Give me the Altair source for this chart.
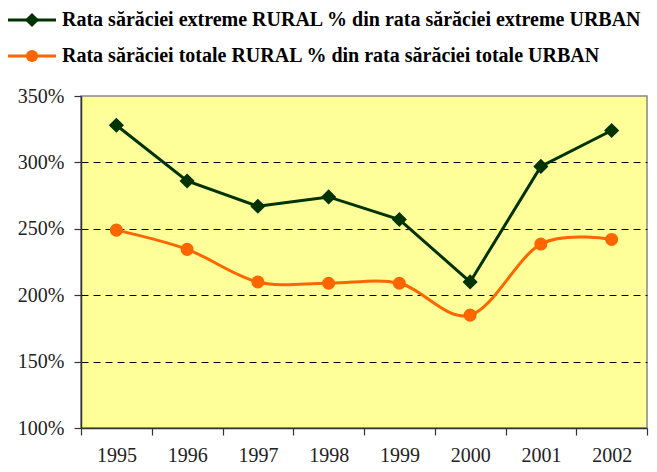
import altair as alt
import pandas as pd

years = ["1995", "1996", "1997", "1998", "1999", "2000", "2001", "2002"]
extreme = [328, 286, 267, 274, 257, 210, 297, 324]
total = [249, 234.5, 210, 209, 209, 185, 238.5, 242]
series_names = [
    "Rata sărăciei extreme RURAL % din rata sărăciei extreme URBAN",
    "Rata sărăciei totale RURAL % din rata sărăciei totale URBAN",
]
colors = ["#003300", "#FF6600"]
shapes = ["diamond", "circle"]
y_ticks = [100, 150, 200, 250, 300, 350]

FONT = "Liberation Serif"

df_ext = pd.DataFrame({"year": years, "value": extreme})
df_tot = pd.DataFrame({"year": years, "value": total})

x_enc = alt.X(
    "year:O",
    scale=alt.Scale(type="band", paddingInner=0, paddingOuter=0),
    axis=alt.Axis(
        title=None, labelAngle=0, tickBand="extent", tickSize=7,
        labelPadding=10, labelFontSize=20, labelFont=FONT, labelColor="#222",
        domainColor="#333", domainWidth=1.5, tickColor="#333", tickWidth=1.2,
        grid=False,
    ),
)
y_enc = alt.Y(
    "value:Q",
    scale=alt.Scale(domain=[100, 350], nice=False, zero=False),
    axis=alt.Axis(
        title=None, values=y_ticks, labelExpr="datum.value + '%'",
        tickSize=7, labelPadding=10, labelFontSize=20, labelFont=FONT,
        labelColor="#222", domainColor="#333", domainWidth=1.5,
        tickColor="#333", tickWidth=1.2,
        grid=True, gridColor="#000", gridDash=[7, 5], gridWidth=1,
        gridOpacity={"condition": {"test": "datum.value <= 100 || datum.value >= 350", "value": 0}, "value": 1},
    ),
)

tot_line = alt.Chart(df_tot).mark_line(
    color=colors[1], strokeWidth=3, interpolate="cardinal"
).encode(x=x_enc, y=y_enc)
tot_pts = alt.Chart(df_tot).mark_point(
    shape="circle", filled=True, opacity=1, color=colors[1], size=170
).encode(x=x_enc, y=y_enc)
ext_line = alt.Chart(df_ext).mark_line(
    color=colors[0], strokeWidth=3
).encode(x=x_enc, y=y_enc)
ext_pts = alt.Chart(df_ext).mark_point(
    shape="diamond", filled=True, opacity=1, color=colors[0], size=230
).encode(x=x_enc, y=y_enc)

legend_layers = []
legend_y = [-76, -40]
for name, col, shp, ly in zip(series_names, colors, shapes, legend_y):
    ldf = pd.DataFrame({"label": [name]})
    base = alt.Chart(ldf)
    legend_layers.append(
        base.mark_rule(color=col, strokeWidth=3).encode(
            x=alt.value(-73), x2=alt.value(-25), y=alt.value(ly)
        )
    )
    legend_layers.append(
        base.mark_point(shape=shp, filled=True, opacity=1, color=col,
                        size=200 if shp == "diamond" else 150).encode(
            x=alt.value(-49), y=alt.value(ly)
        )
    )
    legend_layers.append(
        base.mark_text(align="left", baseline="middle", font=FONT,
                       fontSize=20, fontWeight="bold", color="#000").encode(
            x=alt.value(-19), y=alt.value(ly), text="label:N"
        )
    )

chart = alt.layer(tot_line, tot_pts, ext_line, ext_pts, *legend_layers).properties(
    width=566,
    height=332,
    autosize=alt.AutoSizeParams(type="none"),
    padding={"left": 73, "top": 88, "right": 2, "bottom": 36},
    background="white",
).configure_view(
    fill="#FFFF99", stroke="#888888", strokeWidth=1.5
)

chart.save("out.html", embed_options={"renderer": "svg", "actions": False})
